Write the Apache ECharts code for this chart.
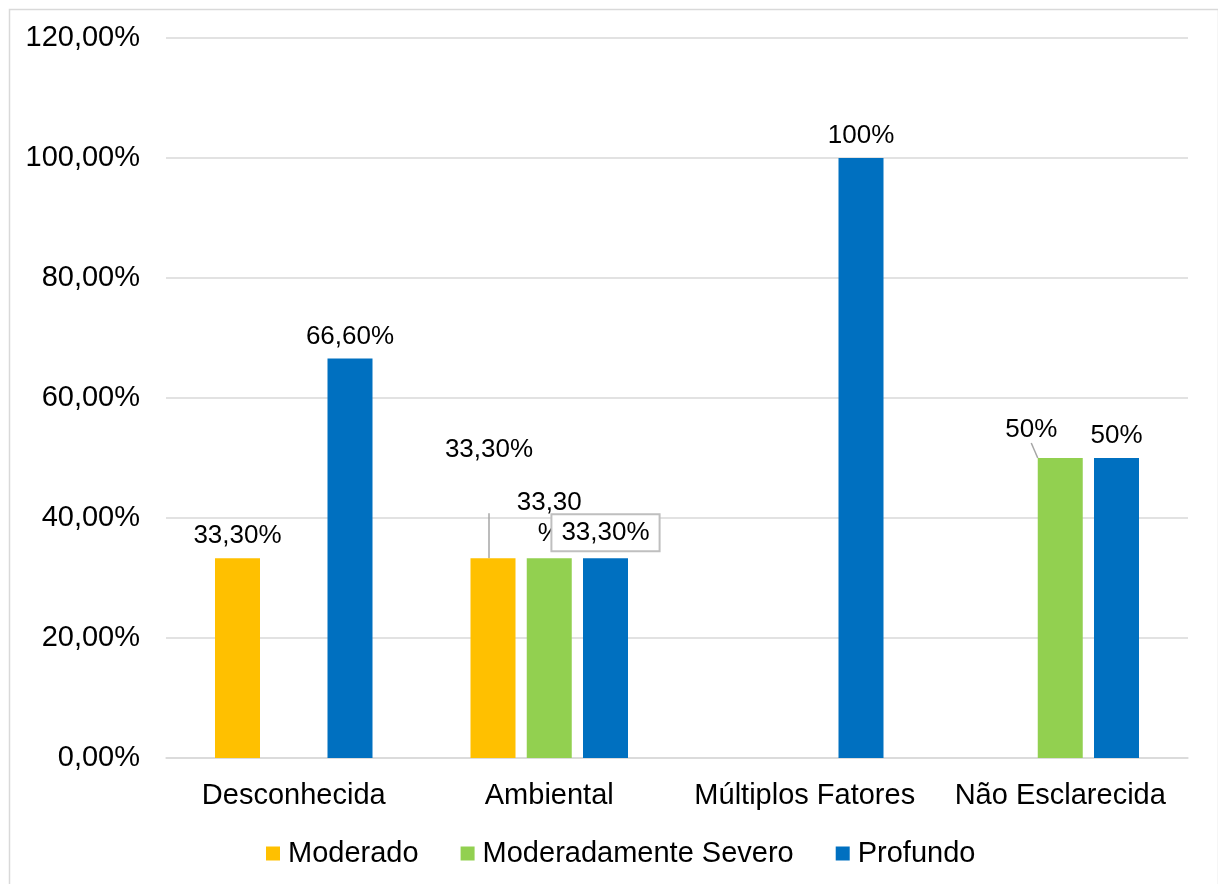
<!DOCTYPE html>
<html>
<head>
<meta charset="utf-8">
<script src="https://cdn.jsdelivr.net/npm/echarts@6/dist/echarts.min.js"></script>
<style>
  html, body { margin: 0; padding: 0; background: #fff; }
  #chart { width: 1218px; height: 884px; }
</style>
</head>
<body>
<div id="chart"></div>
<script>
// Causes of hearing loss by degree
const categories = ['Desconhecida', 'Ambiental', 'Múltiplos Fatores', 'Não Esclarecida'];
const seriesNames = ['Moderado', 'Moderadamente Severo', 'Profundo'];
const moderado = [33.3, 33.3, null, null];
const moderadamenteSevero = [null, 33.3, null, 50];
const profundo = [66.6, 33.3, 100, 50];
const yTicks = [0, 20, 40, 60, 80, 100, 120];

const colors = ['#FFC000', '#92D050', '#0070C0'];
const FONT = '"Liberation Sans", Arial, sans-serif';

function pct(v) {
  return Number.isInteger(v) ? v + '%' : v.toFixed(2).replace('.', ',') + '%';
}

const baseLabel = {
  show: true,
  position: 'top',
  distance: 9,
  color: '#000',
  fontFamily: FONT,
  fontSize: 26,
  formatter: p => pct(p.value)
};

const guide = { show: true, lineStyle: { color: '#a6a6a6', width: 1.5 } };

// Moderado: the Ambiental label sits higher, tied to its bar by a leader line
const moderadoData = moderado.map((v, i) => i === 1
  ? {
      value: v,
      label: { padding: [0, 0, 50, 0], backgroundColor: 'rgba(255,255,255,0)' },
      labelLine: guide
    }
  : v);

// Moderadamente Severo: Ambiental label wraps, Não Esclarecida label moved left
const severoData = moderadamenteSevero.map((v, i) => {
  if (i === 1) return {
    value: v,
    label: { lineHeight: 31, formatter: p => pct(p.value).replace('%', '\n%') }
  };
  if (i === 3) return { value: v, labelLine: guide };
  return v;
});

// Profundo: Ambiental label drawn in a box
const profundoData = profundo.map((v, i) => i === 1
  ? {
      value: v,
      label: {
        backgroundColor: '#fff', borderColor: '#bfbfbf', borderWidth: 2,
        padding: [3, 9, 3, 9], lineHeight: 29, distance: 8
      }
    }
  : v);

const chart = echarts.init(document.getElementById('chart'), null, { renderer: 'canvas' });

chart.setOption({
  animation: false,
  backgroundColor: '#fff',
  color: colors,
  textStyle: { fontFamily: FONT },
  graphic: [{
    type: 'rect',
    left: 7, top: 7,
    shape: { width: 1209, height: 900 },
    style: { fill: 'none', stroke: '#d9d9d9', lineWidth: 1.5 },
    silent: true
  }],
  grid: { left: 166, right: 30, top: 38, bottom: 126 },
  legend: {
    data: seriesNames,
    left: 261,
    top: 834,
    icon: 'rect',
    itemWidth: 14,
    itemHeight: 14,
    itemGap: 42,
    textStyle: { color: '#000', fontSize: 29, fontFamily: FONT, padding: [0, 0, 0, 3] }
  },
  xAxis: {
    type: 'category',
    data: categories,
    axisTick: { show: false },
    axisLine: { lineStyle: { color: '#d9d9d9', width: 1.5 } },
    axisLabel: { color: '#000', fontSize: 29, fontFamily: FONT, margin: 23, interval: 0 }
  },
  yAxis: {
    type: 'value',
    min: yTicks[0],
    max: yTicks[yTicks.length - 1],
    interval: yTicks[1] - yTicks[0],
    axisLine: { show: false },
    axisTick: { show: false },
    splitLine: { lineStyle: { color: '#d9d9d9', width: 1.5 } },
    axisLabel: {
      color: '#000', fontSize: 29, fontFamily: FONT, margin: 26,
      formatter: v => v.toFixed(2).replace('.', ',') + '%'
    }
  },
  series: [
    {
      name: seriesNames[0], type: 'bar', data: moderadoData,
      barWidth: 45, barGap: '25%',
      label: baseLabel,
      labelLayout: p => p.dataIndex === 1 ? { dx: -4, dy: -36 } : {}
    },
    {
      name: seriesNames[1], type: 'bar', data: severoData,
      barWidth: 45, barGap: '25%',
      label: baseLabel,
      labelLayout: p => p.dataIndex === 3 ? { dx: -29, dy: -6 } : {}
    },
    {
      name: seriesNames[2], type: 'bar', data: profundoData,
      barWidth: 45, barGap: '25%',
      label: baseLabel
    }
  ]
});
</script>
</body>
</html>
